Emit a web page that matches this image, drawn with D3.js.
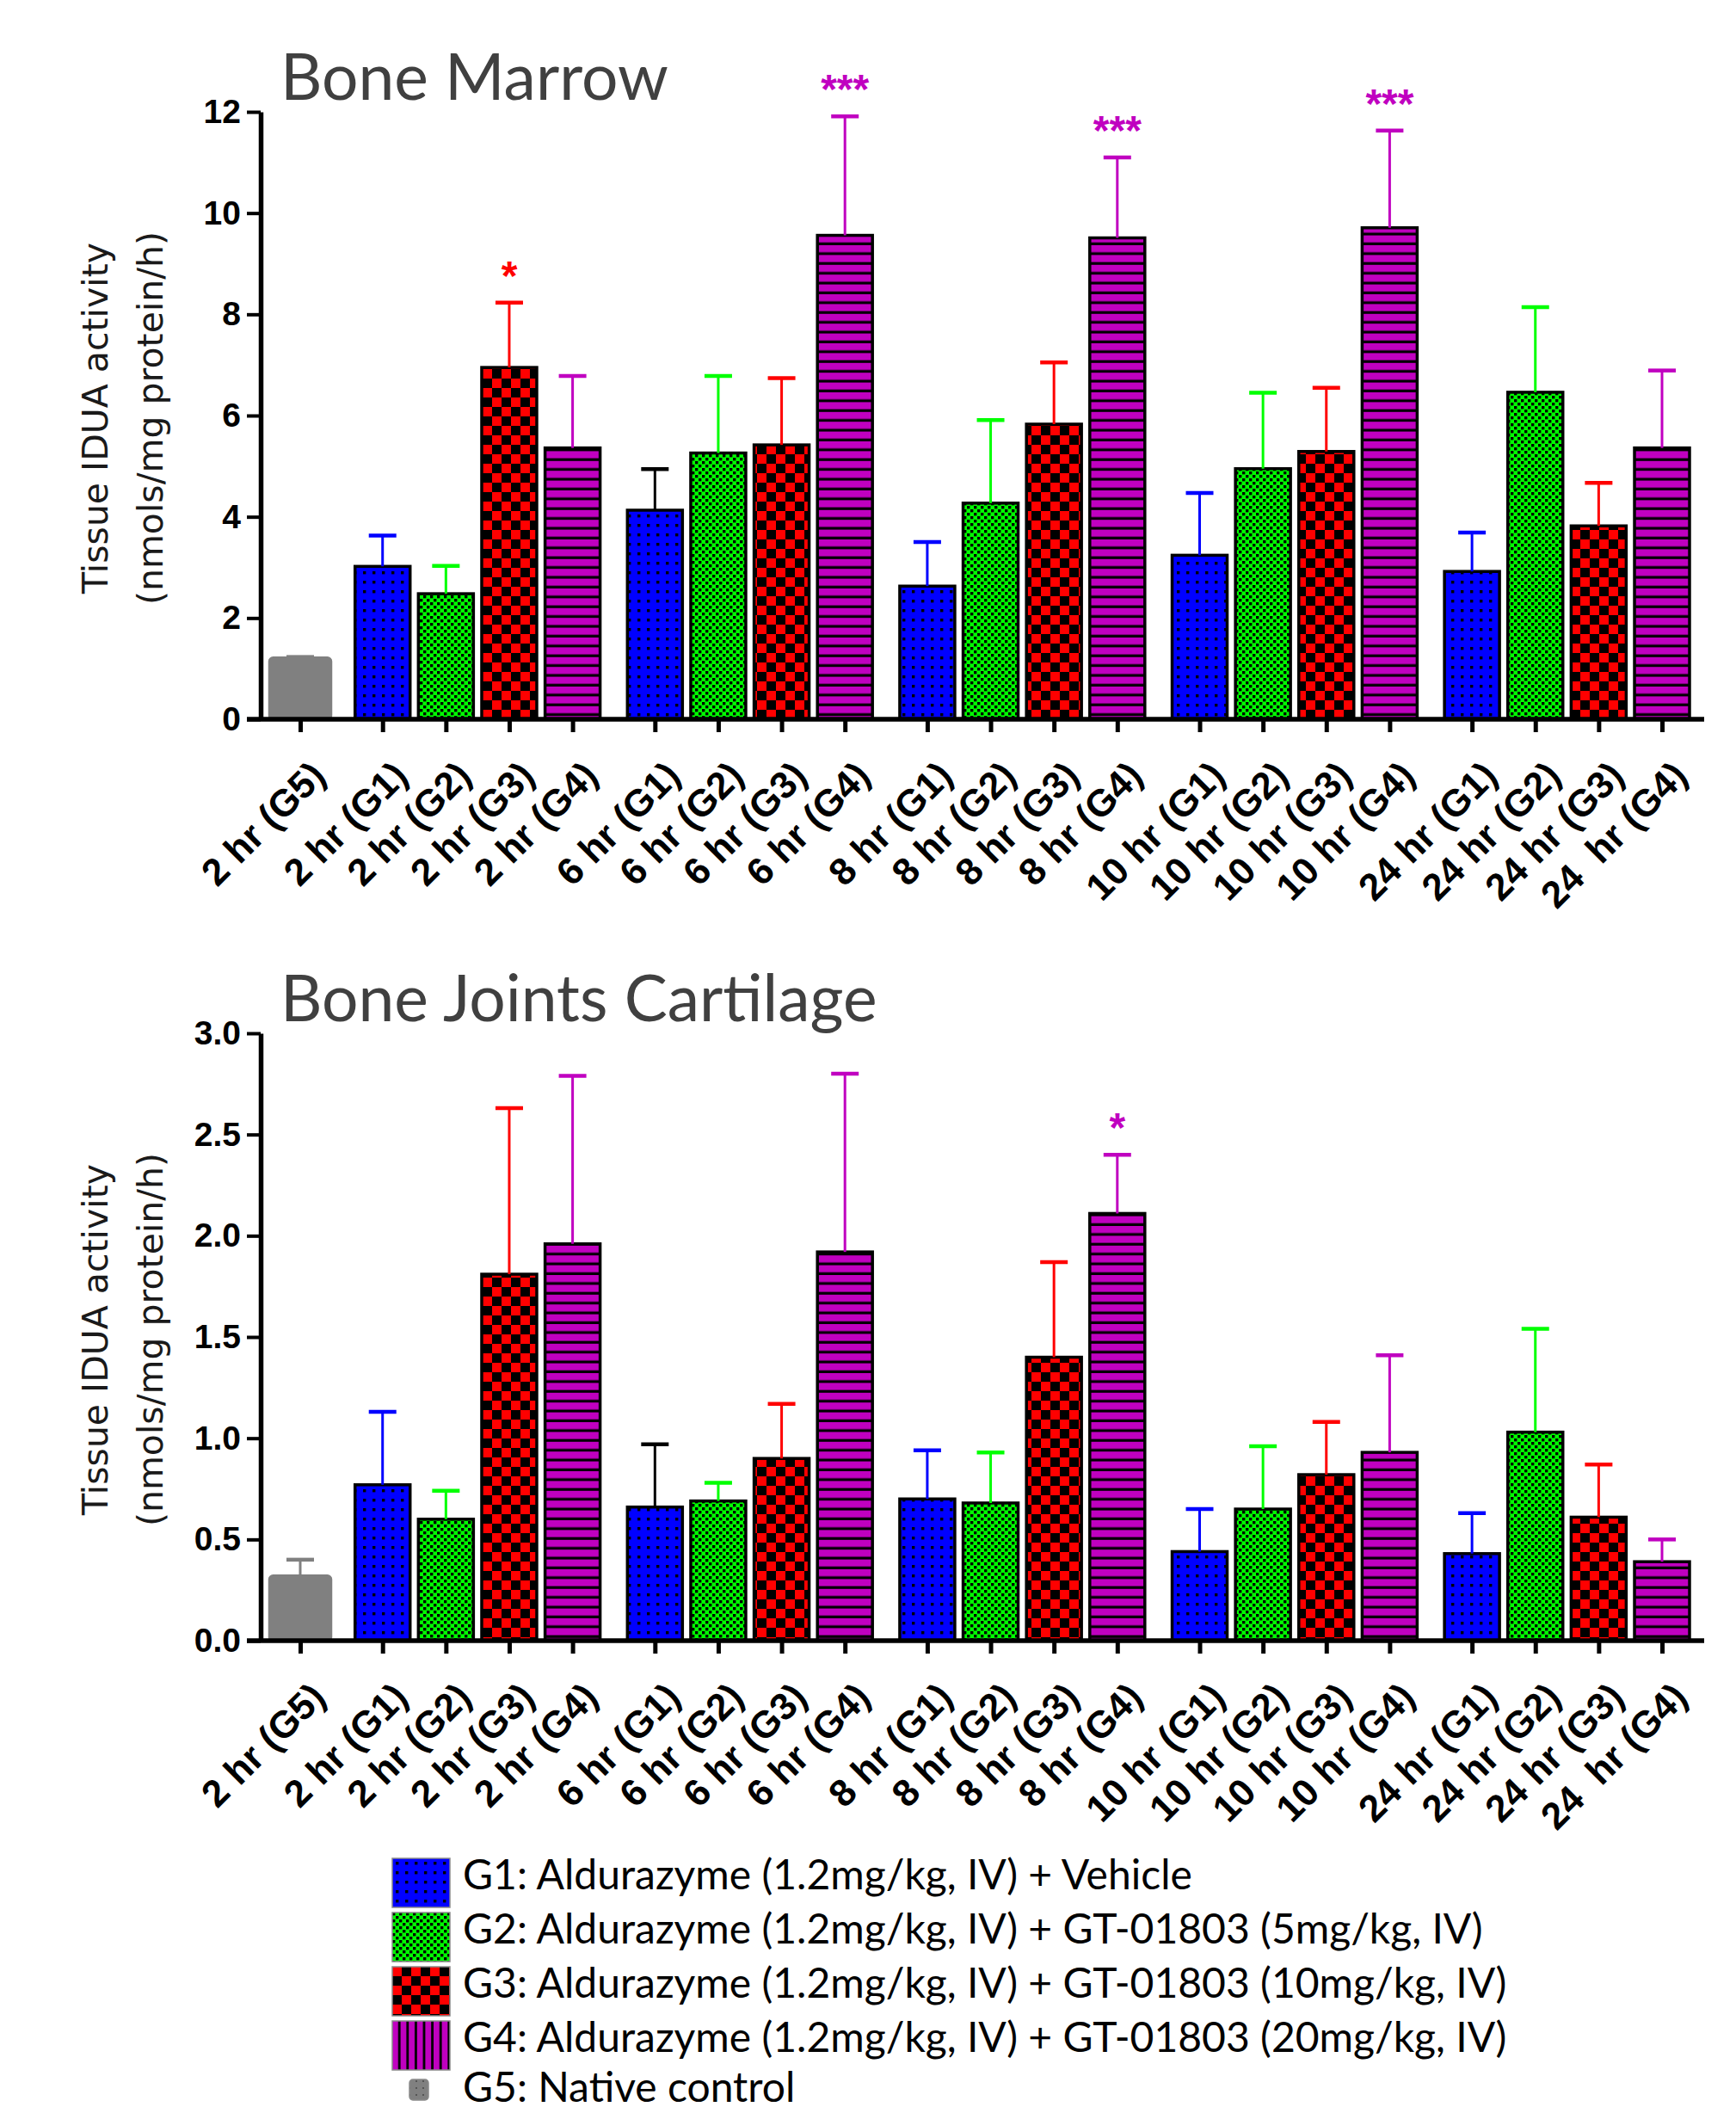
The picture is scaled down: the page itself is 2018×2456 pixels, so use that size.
<!DOCTYPE html>
<html>
<head>
<meta charset="utf-8">
<script src="https://cdn.jsdelivr.net/npm/d3@7"></script>
<style>
body { margin: 0; background: #fff; }
svg { display: block; }
</style>
</head>
<body>
<div id="chart"></div>
<script>

// categories along the x axis (last label really has two spaces)
var labels = ["2 hr (G5)",
  "2 hr (G1)", "2 hr (G2)", "2 hr (G3)", "2 hr (G4)",
  "6 hr (G1)", "6 hr (G2)", "6 hr (G3)", "6 hr (G4)",
  "8 hr (G1)", "8 hr (G2)", "8 hr (G3)", "8 hr (G4)",
  "10 hr (G1)", "10 hr (G2)", "10 hr (G3)", "10 hr (G4)",
  "24 hr (G1)", "24 hr (G2)", "24 hr (G3)", "24  hr (G4)"];
var clusters = [0, 1, 1, 1, 1, 2, 2, 2, 2, 3, 3, 3, 3, 4, 4, 4, 4, 5, 5, 5, 5];

// Bone Marrow: mean and upper error
var marrowMean = [1.21, 3.02, 2.48, 6.95, 5.36, 4.13, 5.26, 5.42, 9.56, 2.63, 4.27, 5.83, 9.51, 3.24, 4.95, 5.29, 9.71, 2.92, 6.46, 3.82, 5.36];
var marrowErr  = [0.02, 0.61, 0.55, 1.28, 1.42, 0.81, 1.52, 1.32, 2.35, 0.87, 1.64, 1.22, 1.59, 1.23, 1.50, 1.26, 1.92, 0.77, 1.68, 0.85, 1.53];
var marrowTicks = [0, 2, 4, 6, 8, 10, 12];
var marrowStars = [["2 hr (G3)", "*"], ["6 hr (G4)", "***"], ["8 hr (G4)", "***"], ["10 hr (G4)", "***"]];

// Bone Joints Cartilage
var cartMean = [0.32, 0.77, 0.60, 1.81, 1.96, 0.66, 0.69, 0.90, 1.92, 0.70, 0.68, 1.40, 2.11, 0.44, 0.65, 0.82, 0.93, 0.43, 1.03, 0.61, 0.39];
var cartErr  = [0.08, 0.36, 0.14, 0.82, 0.83, 0.31, 0.09, 0.27, 0.88, 0.24, 0.25, 0.47, 0.29, 0.21, 0.31, 0.26, 0.48, 0.20, 0.51, 0.26, 0.11];
var cartTicks = [0, 0.5, 1, 1.5, 2, 2.5, 3];
var cartStars = [["8 hr (G4)", "*"]];

var legendNames = ["G1", "G2", "G3", "G4", "G5"];
var legendText = ["G1: Aldurazyme (1.2mg/kg, IV) + Vehicle",
  "G2: Aldurazyme (1.2mg/kg, IV) + GT-01803 (5mg/kg, IV)",
  "G3: Aldurazyme (1.2mg/kg, IV) + GT-01803 (10mg/kg, IV)",
  "G4: Aldurazyme (1.2mg/kg, IV) + GT-01803 (20mg/kg, IV)",
  "G5: Native control"];

var W = 2018, H = 2456;
var colors = {G1: "#0000ff", G2: "#00ff00", G3: "#ff0000", G4: "#c000c0", G5: "#808080"};
var errOverride = {"6 hr (G1)": "#000"};
var clusterGap = 0.3;
var axisX = 303, plotH = 706;
var boldFont = "'Liberation Sans', Arial, Helvetica, sans-serif";

var svg = d3.select("#chart").append("svg").attr("width", W).attr("height", H);
var defs = svg.append("defs");

function addPattern(id, w, h, fn) {
  var p = defs.append("pattern").attr("id", id)
    .attr("patternUnits", "userSpaceOnUse")
    .attr("width", w).attr("height", h);
  fn(p, w, h);
}
addPattern("pG1", 11, 11, function(p, w, h) {
  p.append("rect").attr("width", w).attr("height", h).attr("fill", colors.G1);
  p.append("rect").attr("x", 4).attr("y", 4).attr("width", 3.4).attr("height", 3.4).attr("fill", "#000");
});
addPattern("pG2", 8, 8, function(p, w, h) {
  p.append("rect").attr("width", w).attr("height", h).attr("fill", colors.G2);
  p.append("rect").attr("width", 3.4).attr("height", 3.4).attr("fill", "#000");
  p.append("rect").attr("x", 4).attr("y", 4).attr("width", 3.4).attr("height", 3.4).attr("fill", "#000");
});
addPattern("pG3", 22, 22, function(p, w, h) {
  p.append("rect").attr("width", w).attr("height", h).attr("fill", "#000");
  p.append("rect").attr("width", w / 2).attr("height", h / 2).attr("fill", colors.G3);
  p.append("rect").attr("x", w / 2).attr("y", h / 2).attr("width", w / 2).attr("height", h / 2).attr("fill", colors.G3);
});
addPattern("pG4", 10, 11.4, function(p, w, h) {
  p.append("rect").attr("width", w).attr("height", h).attr("fill", colors.G4);
  p.append("rect").attr("y", 8.2).attr("width", w).attr("height", 3.2).attr("fill", "#000");
});
addPattern("pG4v", 9.6, 10, function(p, w, h) {
  p.append("rect").attr("width", w).attr("height", h).attr("fill", colors.G4);
  p.append("rect").attr("x", 6.8).attr("width", 2.8).attr("height", h).attr("fill", "#000");
});
addPattern("pG5", 8, 8, function(p, w, h) {
  p.append("rect").attr("width", w).attr("height", h).attr("fill", colors.G5);
  p.append("rect").attr("x", 3).attr("y", 3).attr("width", 2).attr("height", 2).attr("fill", "#555");
});

function groupOf(label) {
  return label.match(/\((G\d)\)/)[1];
}

function panel(o) {
  var g = svg.append("g");
  var bottom = o.top + plotH;

  var x = d3.scaleLinear().domain([0, labels.length - 1 + 5 * clusterGap]).range([349, 1932]);
  var y = d3.scaleLinear().domain([0, o.ticks[o.ticks.length - 1]]).range([bottom, o.top]);

  var data = labels.map(function(l, i) {
    return {label: l, grp: groupOf(l), u: i + clusters[i] * clusterGap, v: o.mean[i], e: o.err[i]};
  });

  // title
  g.append("text")
    .attr("x", 326).attr("y", o.top - 14)
    .attr("font-family", "Lato, 'Open Sans', sans-serif")
    .attr("font-size", 75)
    .attr("fill", "#404040")
    .text(o.title);

  // y title, two lines
  var mid = o.top + plotH / 2 + 3;
  g.append("text")
    .attr("transform", "translate(125," + mid + ") rotate(-90)")
    .attr("text-anchor", "middle")
    .attr("font-family", "'DejaVu Sans', sans-serif")
    .attr("font-size", 41).attr("fill", "#1a1a1a")
    .text("Tissue IDUA activity");
  g.append("text")
    .attr("transform", "translate(189," + mid + ") rotate(-90)")
    .attr("text-anchor", "middle")
    .attr("font-family", "'DejaVu Sans', sans-serif")
    .attr("font-size", 41).attr("fill", "#1a1a1a")
    .text("(nmols/mg protein/h)");

  // bars
  g.selectAll("rect.bar").data(data).join("rect")
    .attr("class", "bar")
    .attr("x", function(d) { return x(d.u) - (d.grp == "G5" ? 35.5 : 32); })
    .attr("width", function(d) { return d.grp == "G5" ? 71 : 64; })
    .attr("y", function(d) { return y(d.v); })
    .attr("height", function(d) { return y(0) - y(d.v); })
    .attr("rx", function(d) { return d.grp == "G5" ? 4 : 0; })
    .attr("fill", function(d) { return d.grp == "G5" ? colors.G5 : "url(#p" + d.grp + ")"; })
    .attr("stroke", function(d) { return d.grp == "G5" ? colors.G5 : "#000"; })
    .attr("stroke-width", 3.5);

  // error bars (upper only)
  var eb = g.selectAll("g.err").data(data).join("g").attr("class", "err")
    .attr("stroke", function(d) { return errOverride[d.label] || colors[d.grp]; });
  eb.append("line")
    .attr("x1", function(d) { return x(d.u); })
    .attr("x2", function(d) { return x(d.u); })
    .attr("y1", function(d) { return y(d.v); })
    .attr("y2", function(d) { return y(d.v + d.e); })
    .attr("stroke-width", 3);
  eb.append("line")
    .attr("x1", function(d) { return x(d.u) - 16; })
    .attr("x2", function(d) { return x(d.u) + 16; })
    .attr("y1", function(d) { return y(d.v + d.e); })
    .attr("y2", function(d) { return y(d.v + d.e); })
    .attr("stroke-width", 4.5);

  // significance stars
  g.selectAll("text.star").data(o.stars).join("text")
    .attr("class", "star")
    .attr("x", function(s) { var i = labels.indexOf(s[0]); return x(data[i].u); })
    .attr("y", function(s) { var i = labels.indexOf(s[0]); return y(data[i].v + data[i].e) - 15; })
    .attr("text-anchor", "middle")
    .attr("font-family", boldFont).attr("font-weight", "bold").attr("font-size", 48)
    .attr("fill", function(s) { return colors[groupOf(s[0])]; })
    .text(function(s) { return s[1]; });

  // x axis
  var xa = g.append("g").attr("transform", "translate(0," + bottom + ")")
    .call(d3.axisBottom(x)
      .tickValues(data.map(function(d) { return d.u; }))
      .tickFormat(function(d, i) { return labels[i]; })
      .tickSize(15).tickSizeOuter(0));
  xa.select(".domain")
    .attr("d", "M" + (axisX - 16) + ",0H" + (x.range()[1] + 49))
    .attr("stroke", "#000").attr("stroke-width", 5.5);
  xa.selectAll(".tick line").attr("stroke-width", 5).attr("stroke", "#000");
  xa.attr("font-family", boldFont).attr("font-size", 44).attr("font-weight", "bold");
  xa.selectAll(".tick text")
    .attr("x", 0).attr("y", 0).attr("dy", 0)
    .attr("text-anchor", "end")
    .attr("fill", "#000")
    .style("white-space", "pre")
    .attr("transform", "translate(31,68) rotate(-45)");

  // y axis
  var ya = g.append("g").attr("transform", "translate(" + axisX + ",0)")
    .call(d3.axisLeft(y).tickValues(o.ticks).tickFormat(o.fmt)
      .tickSize(16).tickSizeOuter(0).tickPadding(7));
  ya.select(".domain").attr("stroke", "#000").attr("stroke-width", 5.5);
  ya.selectAll(".tick line").attr("stroke", "#000").attr("stroke-width", 4);
  ya.attr("font-family", boldFont).attr("font-size", 39).attr("font-weight", "bold");
  ya.selectAll(".tick text").attr("fill", "#000");
}

panel({title: "Bone Marrow", top: 130, mean: marrowMean, err: marrowErr,
  ticks: marrowTicks, fmt: d3.format("d"), stars: marrowStars});
panel({title: "Bone Joints Cartilage", top: 1201, mean: cartMean, err: cartErr,
  ticks: cartTicks, fmt: d3.format(".1f"), stars: cartStars});

// legend (last row pulled up a little so it stays inside the page)
var legend = svg.append("g").attr("transform", "translate(456,2160)");
var rows = legend.selectAll("g").data(legendNames).join("g")
  .attr("transform", function(d, i) { return "translate(0," + (i * 63 - (d == "G5" ? 5 : 0)) + ")"; });
rows.append("rect")
  .attr("x", function(d) { return d == "G5" ? 20 : 0; })
  .attr("y", function(d) { return d == "G5" ? 10 : 0; })
  .attr("width", function(d) { return d == "G5" ? 22 : 67; })
  .attr("height", function(d) { return d == "G5" ? 24 : 57; })
  .attr("rx", function(d) { return d == "G5" ? 4 : 0; })
  .attr("fill", function(d) { return d == "G4" ? "url(#pG4v)" : "url(#p" + d + ")"; })
  .attr("stroke", "#8a8a8a").attr("stroke-width", 1.5);
rows.append("text")
  .attr("x", 82).attr("y", 36)
  .attr("font-family", "Lato, 'Open Sans', sans-serif")
  .attr("font-size", 48).attr("fill", "#000")
  .text(function(d, i) { return legendText[i]; });

</script>
</body>
</html>
